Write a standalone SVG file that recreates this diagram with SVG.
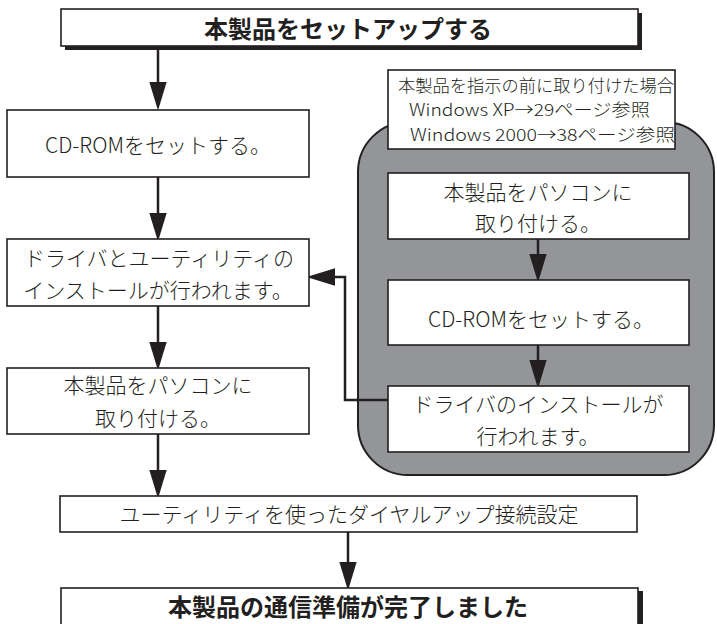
<svg xmlns="http://www.w3.org/2000/svg" width="717" height="624" viewBox="0 0 717 624">
<style>
.box{fill:#fff;stroke:#231f20;stroke-width:1.6}
.t{font-family:"Noto Sans CJK JP","Liberation Sans",sans-serif;font-weight:300;fill:#231f20;text-anchor:middle;dominant-baseline:central;font-size:21px}
.tb{font-weight:bold;font-size:24px}
.ts{font-size:17px;text-anchor:start}
.c{fill:none;stroke:#231f20;stroke-width:2.5;marker-end:url(#ah)}
</style>
<defs>
<marker id="ah" markerUnits="userSpaceOnUse" markerWidth="30" markerHeight="20" viewBox="0 -8 24 16" refX="13" refY="0" orient="auto">
<path d="M0,-7 L23,0 L0,7 z" fill="#231f20"/>
</marker>
</defs>
<rect width="717" height="624" fill="#fff"/>

<g id="group-before">
<rect x="358" y="122" width="356" height="353" rx="50" ry="50" fill="#939598" stroke="#231f20" stroke-width="2"/>
</g>

<g id="connectors">
<line class="c" x1="158" y1="50" x2="158" y2="98"/>
<line class="c" x1="158" y1="177" x2="158" y2="229"/>
<line class="c" x1="158" y1="306" x2="158" y2="358"/>
<line class="c" x1="158" y1="434" x2="158" y2="486"/>
<line class="c" x1="348" y1="532" x2="348" y2="578"/>
<line class="c" x1="538" y1="239" x2="538" y2="270"/>
<line class="c" x1="538" y1="345" x2="538" y2="376"/>
<polyline class="c" points="388,400 345,400 345,277 319,277"/>
</g>

<g id="start">
<rect x="65" y="13" width="577" height="37" fill="#231f20"/>
<rect class="box" x="61" y="9" width="577" height="37"/>
<text class="t tb" x="348" y="27">本製品をセットアップする</text>
</g>

<g id="cdrom-left">
<rect class="box" x="7" y="110" width="302" height="67"/>
<text class="t" x="158" y="144">CD-ROMをセットする。</text>
</g>

<g id="install-left">
<rect class="box" x="7" y="239" width="302" height="67"/>
<text class="t" x="159" y="257">ドライバとユーティリティの</text>
<text class="t" x="158" y="289">インストールが行われます。</text>
</g>

<g id="attach-left">
<rect class="box" x="7" y="368" width="302" height="66"/>
<text class="t" x="158" y="384">本製品をパソコンに</text>
<text class="t" x="158" y="417">取り付ける。</text>
</g>

<g id="info">
<rect class="box" x="388" y="70" width="287" height="79"/>
<text class="t ts" x="398" y="84" textLength="276" lengthAdjust="spacingAndGlyphs">本製品を指示の前に取り付けた場合</text>
<text class="t ts" x="409" y="108" textLength="241" lengthAdjust="spacingAndGlyphs">Windows XP→29ページ参照</text>
<text class="t ts" x="410" y="133" textLength="265" lengthAdjust="spacingAndGlyphs">Windows 2000→38ページ参照</text>
</g>

<g id="attach-right">
<rect class="box" x="388" y="173" width="301" height="66"/>
<text class="t" x="538" y="191">本製品をパソコンに</text>
<text class="t" x="538" y="222">取り付ける。</text>
</g>

<g id="cdrom-right">
<rect class="box" x="388" y="280" width="301" height="65"/>
<text class="t" x="541" y="318">CD-ROMをセットする。</text>
</g>

<g id="install-right">
<rect class="box" x="388" y="386" width="301" height="66"/>
<text class="t" x="538" y="403">ドライバのインストールが</text>
<text class="t" x="538" y="435">行われます。</text>
</g>

<g id="dialup">
<rect class="box" x="60" y="496" width="577" height="36"/>
<text class="t" x="349" y="513">ユーティリティを使ったダイヤルアップ接続設定</text>
</g>

<g id="done">
<rect x="638" y="591" width="5" height="40" fill="#231f20"/>
<rect class="box" x="61" y="588" width="577" height="40"/>
<text class="t tb" x="348" y="605">本製品の通信準備が完了しました</text>
</g>
</svg>
